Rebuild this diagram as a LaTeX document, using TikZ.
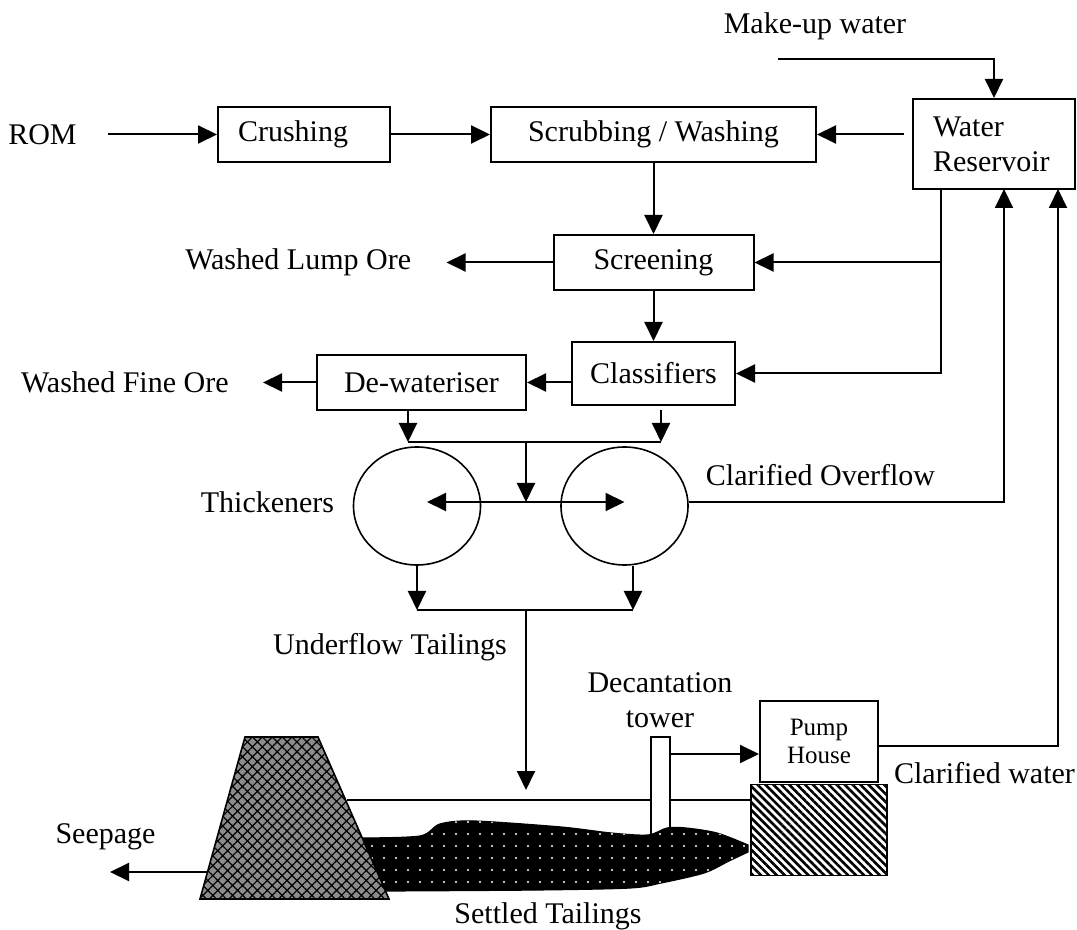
\documentclass[tikz,border=0pt]{standalone}
\usepackage{fontspec}
\setmainfont{Liberation Serif}
\usetikzlibrary{positioning}
\usetikzlibrary{shapes.geometric}
\usetikzlibrary{arrows.meta}
\usetikzlibrary{patterns.meta}

\begin{document}
\begin{tikzpicture}[
		x=0.5pt, y=-0.5pt,
		% Style definitions for the flowsheet
		box/.style={draw, line width=1pt, inner sep=0pt, font=\fontsize{15}{17.5}\selectfont, align=center},
		txt/.style={inner sep=0pt, font=\fontsize{15}{17.5}\selectfont, align=center},
		tank/.style={draw, ellipse, line width=0.8pt, minimum width=63.5pt, minimum height=59pt, inner sep=0pt},
		arrow/.style={-{Triangle[length=9.5pt,width=9pt]}, line width=1pt},
		pipe/.style={line width=1pt},
		]
		\useasboundingbox (0,0) rectangle (1077,930);

		% === Row 1: ROM, crushing, scrubbing, water reservoir ===
		\node[box, text width=66pt, align=left, inner xsep=10pt, minimum height=27.5pt] (crush) at (304,134.5) {Crushing};
		\node[txt, left=70pt of crush] (rom) {ROM};
		\node[box, minimum width=162.5pt, minimum height=27.5pt, right=49.5pt of crush] (scrub) {Scrubbing / Washing};
		\node[box, text width=61pt, align=left, inner xsep=10pt, minimum height=45pt] (res) at (994,144) {Water\\Reservoir};
		\node[txt] (makeup) at (815,26) {Make-up water};
		\coordinate (mw) at (778,59);

		% === Row 2 and 3: screening, classifiers, de-wateriser ===
		\node[box, minimum width=100pt, minimum height=27.5pt, below=35.5pt of scrub] (screen) {Screening};
		\node[txt, left=70.5pt of screen] (lump) {Washed Lump Ore};
		\node[box, minimum width=81.5pt, minimum height=31.5pt, below=25pt of screen] (classif) {Classifiers};
		\node[box, minimum width=104.5pt, minimum height=27.5pt, left=22pt of classif, yshift=-4.5pt] (dewat) {De-wateriser};
		\node[txt, left=43.5pt of dewat] (fine) {Washed Fine Ore};

		% === Thickeners ===
		\node[tank] (thL) at (417,506) {};
		\node[tank] (thR) at (624.5,506) {};
		\node[txt] (thick) at (267.5,502) {Thickeners};
		\node[txt] (overflow) at (820.5,475) {Clarified Overflow};
		\node[txt] (under) at (390,647) {Underflow Tailings};

		% return lines into the reservoir
		\coordinate (rv1) at (941,189);
		\coordinate (rv2) at (1004,189);
		\coordinate (rv3) at (1058,189);
		% junctions
		\coordinate (mixl) at (408,442);
		\coordinate (mixr) at (661,442);
		\coordinate (mixc) at (526,442);
		\coordinate (feed) at (526,502);
		\coordinate (ufl) at (417,610);
		\coordinate (ufr) at (633,610);
		\coordinate (ufc) at (526,610);
		\coordinate (drop) at (526,790);

		% === Arrows of the plant ===
		\draw[arrow, shorten <=15.5pt] (rom) -- (crush);
		\draw[arrow] (crush) -- (scrub);
		\draw[arrow, shorten <=4pt] (res.west |- scrub.east) -- (scrub.east);
		\draw[arrow] (mw) -| (res.north);
		\draw[arrow] (scrub) -- (screen);
		\draw[arrow, shorten >=17.5pt] (screen.west) -- (lump.east);
		\draw[arrow] (rv1) |- (classif.east);
		\draw[arrow] (rv1 |- screen.east) -- (screen.east);
		\draw[arrow] (screen) -- (classif);
		\draw[arrow] (classif.west |- dewat.east) -- (dewat.east);
		\draw[arrow, shorten >=17pt] (dewat.west) -- (fine.east);
		\draw[arrow] (dewat.south -| mixl) -- (mixl);
		\draw[arrow, shorten <=2pt] (classif.south -| mixr) -- (mixr);
		\draw[pipe] (mixl) -- (mixr);
		\draw[arrow] (mixc) -- (feed);
		\draw[arrow, shorten >=5pt] (feed) -- (feed -| thL);
		\draw[arrow] (feed) -- (feed -| thR);
		\draw[arrow] (thR.east |- feed) -| (rv2);
		\draw[arrow] (thL.south) -- (ufl);
		\draw[arrow] (ufr |- thR.south) -- (ufr);
		\draw[pipe] (ufl) -- (ufr);
		\draw[arrow] (ufc) -- (drop);

		% === Tailings pond ===
		\node[box, font=\fontsize{12.5}{14}\selectfont, minimum width=59pt, minimum height=40.5pt] (pump) at (819,741.5) {Pump\\House};
		\node[draw, line width=0.8pt, minimum width=68pt, minimum height=45.5pt, inner sep=0pt, below=0pt of pump,
			pattern={Lines[angle=-45,distance=2.8pt,line width=1.3pt]}] (base) {};
		\coordinate (wl) at (347,800);
		\draw[pipe, line width=0.8pt] (wl) -- (wl -| base.west);
		\node[draw, fill=white, line width=0.8pt, minimum width=9.5pt, minimum height=49pt, inner sep=0pt] (tower) at (660.5,786) {};
		\node[txt] (decant) at (660,700) {Decantation\\tower};
		\draw[arrow] ([yshift=16pt]tower.east) -- ([yshift=16pt]tower.east -| pump.west);
		\draw[arrow] ([yshift=-2pt]pump.east) -| (rv3);
		\node[txt] (clwater) at (984.5,773) {Clarified water};

		% settled tailings
		\filldraw[line width=0.6pt, fill=black, postaction={pattern={Dots[distance=6pt,radius=0.6pt]}, pattern color=white}]
			plot[smooth, tension=0.5] coordinates {(362,838) (420,836) (440,824) (474,821) (561,827) (611,833) (648,835) (667,828) (686,828) (717,833) (748,845)}
			-- plot[smooth, tension=0.5] coordinates {(748,852) (729,861) (704,873) (661,883) (630,888) (536,890) (386,891)}
			-- cycle;
		% dam wall
		\filldraw[line width=0.8pt, fill=black!45, postaction={pattern={Hatch[angle=45,distance=3.5pt,line width=0.6pt]}}]
			(200,899) -- (245,737) -- (318,737) -- (389,899) -- cycle;

		\coordinate (damfoot) at (207,872);
		\coordinate (seep) at (110,872);
		\draw[arrow] (damfoot) -- (seep);
		\node[txt] (seepage) at (105.5,837) {Seepage};
		\node[txt] (settled) at (548,916) {Settled Tailings};

	\end{tikzpicture}
\end{document}
